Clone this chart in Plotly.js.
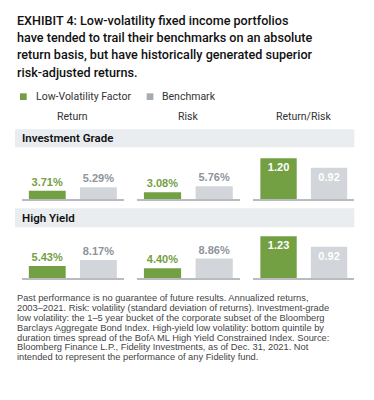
<!DOCTYPE html>
<html><head><meta charset="utf-8">
<script src="https://cdn.plot.ly/plotly-3.0.1.min.js"></script>
<style>html,body{margin:0;padding:0;background:#fff;}#chart{width:374px;height:400px;}</style>
</head><body><div id="chart"></div>
<script>
// ---- data ----
const titleLines = [
  "EXHIBIT 4: Low-volatility fixed income portfolios",
  "have tended to trail their benchmarks on an absolute",
  "return basis, but have historically generated superior",
  "risk-adjusted returns."
];
const seriesNames = ["Low-Volatility Factor", "Benchmark"];
const groups = ["Investment Grade", "High Yield"];
const metrics = ["Return", "Risk", "Return/Risk"];
const lowVolReturn = [3.71, 5.43];
const benchReturn  = [5.29, 8.17];
const lowVolRisk   = [3.08, 4.40];
const benchRisk    = [5.76, 8.86];
const lowVolRatio  = [1.20, 1.23];
const benchRatio   = [0.92, 0.92];
const footLines = [
  "Past performance is no guarantee of future results. Annualized returns,",
  "2003\u20132021. Risk: volatility (standard deviation of returns). Investment-grade",
  "low volatility: the 1\u20135 year bucket of the corporate subset of the Bloomberg",
  "Barclays Aggregate Bond Index. High-yield low volatility: bottom quintile by",
  "duration times spread of the BofA ML High Yield Constrained Index. Source:",
  "Bloomberg Finance L.P., Fidelity Investments, as of Dec. 31, 2021. Not",
  "intended to represent the performance of any Fidelity fund."
];

// ---- styles ----
const W = 374, H = 400;
const GREEN = "#74a044", GREY = "#d2d5d9", GREYTXT = "#8d949c", LEGGREY = "#a5acb4";
const BAND = "#eaedf0", AXIS = "#b8bbbf";
const X = p => p / W, Y = p => 1 - p / H;
const colPx = [[21.7, 124], [136.7, 240], [253.3, 354.3]];
const basePx = [199, 278];
const plotHpx = 50;
const pctPerPx = 1 / 2.2, ratioPerPx = 1 / 34;
const lowVal = [lowVolReturn, lowVolRisk, lowVolRatio];
const benchVal = [benchReturn, benchRisk, benchRatio];

const traces = [];
const layout = {
  width: W, height: H, margin: {l: 0, r: 0, t: 0, b: 0},
  paper_bgcolor: "#fff", plot_bgcolor: "rgba(0,0,0,0)",
  showlegend: false, barmode: "overlay",
  font: {family: "Roboto, 'Liberation Sans', sans-serif", color: "#222"},
  shapes: [], annotations: []
};

let k = 0;
for (let r = 0; r < 2; r++) {
  for (let m = 0; m < 3; m++) {
    k++;
    const xa = "x" + (k === 1 ? "" : k), ya = "y" + (k === 1 ? "" : k);
    const isRatio = m === 2;
    traces.push({
      type: "bar", xaxis: xa, yaxis: ya,
      x: seriesNames, y: [lowVal[m][r], benchVal[m][r]],
      width: 0.72,
      marker: {color: [GREEN, GREY], line: {width: 0}},
      texttemplate: isRatio ? "%{y:.2f}" : "%{y:.2f}%",
      textposition: isRatio ? "inside" : "outside",
      insidetextanchor: "end",
      constraintext: "none", textangle: 0, cliponaxis: false,
      textfont: isRatio
        ? {family: "'Liberation Sans', Arial, sans-serif", size: 11, color: "#fff", weight: 700}
        : {family: "'Liberation Sans', Arial, sans-serif", size: 11, color: [GREEN, GREYTXT], weight: 600},
      hoverinfo: "skip"
    });
    const xk = "xaxis" + (k === 1 ? "" : k), yk = "yaxis" + (k === 1 ? "" : k);
    layout[xk] = {
      domain: [X(colPx[m][0]), X(colPx[m][1])], anchor: ya,
      type: "category", range: [-0.5, 1.5],
      showticklabels: false, ticks: "", showgrid: false, zeroline: false,
      showline: true, linecolor: AXIS, linewidth: 2, fixedrange: true
    };
    layout[yk] = {
      domain: [Y(basePx[r]), Y(basePx[r] - plotHpx)], anchor: xa,
      range: [0, plotHpx * (isRatio ? ratioPerPx : pctPerPx)],
      visible: false, fixedrange: true
    };
  }
}

// title lines
const titleY = [20, 37.5, 55, 72.5];
titleLines.forEach((t, i) => layout.annotations.push({
  text: t, xref: "paper", yref: "paper", x: X(15), y: Y(titleY[i]),
  xanchor: "left", yanchor: "middle", showarrow: false,
  font: {family: "Roboto, sans-serif", size: 12.6, color: "#111", weight: 500}
}));

// legend
const legItems = [[20, 34.3, GREEN], [146.7, 160, LEGGREY]];
seriesNames.forEach((s, i) => {
  const [sx, tx, c] = legItems[i];
  layout.shapes.push({type: "rect", xref: "paper", yref: "paper",
    x0: X(sx), x1: X(sx + 6.7), y0: Y(100), y1: Y(93.3), fillcolor: c, line: {width: 0}});
  layout.annotations.push({text: s, xref: "paper", yref: "paper", x: X(tx), y: Y(96.7),
    xanchor: "left", yanchor: "middle", showarrow: false,
    font: {family: "Roboto, sans-serif", size: 10.5, color: "#333"}});
});

// column headings
metrics.forEach((mt, m) => layout.annotations.push({
  text: mt, xref: "paper", yref: "paper", x: X((colPx[m][0] + colPx[m][1]) / 2), y: Y(116.7),
  xanchor: "center", yanchor: "middle", showarrow: false,
  font: {family: "Roboto, sans-serif", size: 10.5, color: "#333"}
}));

// group bands
const bandPx = [[129.3, 147.3], [208.3, 227.3]];
groups.forEach((g, i) => {
  layout.shapes.push({type: "rect", xref: "paper", yref: "paper", layer: "below",
    x0: X(15), x1: X(354.3), y0: Y(bandPx[i][1]), y1: Y(bandPx[i][0]), fillcolor: BAND, line: {width: 0}});
  layout.annotations.push({text: g, xref: "paper", yref: "paper", x: X(20),
    y: Y((bandPx[i][0] + bandPx[i][1]) / 2), xanchor: "left", yanchor: "middle", showarrow: false,
    font: {family: "Roboto, sans-serif", size: 11.5, color: "#111", weight: 600}});
});

// footnote
footLines.forEach((t, i) => layout.annotations.push({
  text: t, xref: "paper", yref: "paper", x: X(15), y: Y(298.3 + i * 9.83),
  xanchor: "left", yanchor: "middle", showarrow: false,
  font: {family: "'Liberation Sans Narrow', 'Arial Narrow', 'Liberation Sans', sans-serif", size: 9.3, color: "#444"}
}));

Plotly.newPlot("chart", traces, layout, {staticPlot: true, displayModeBar: false});
</script></body></html>
